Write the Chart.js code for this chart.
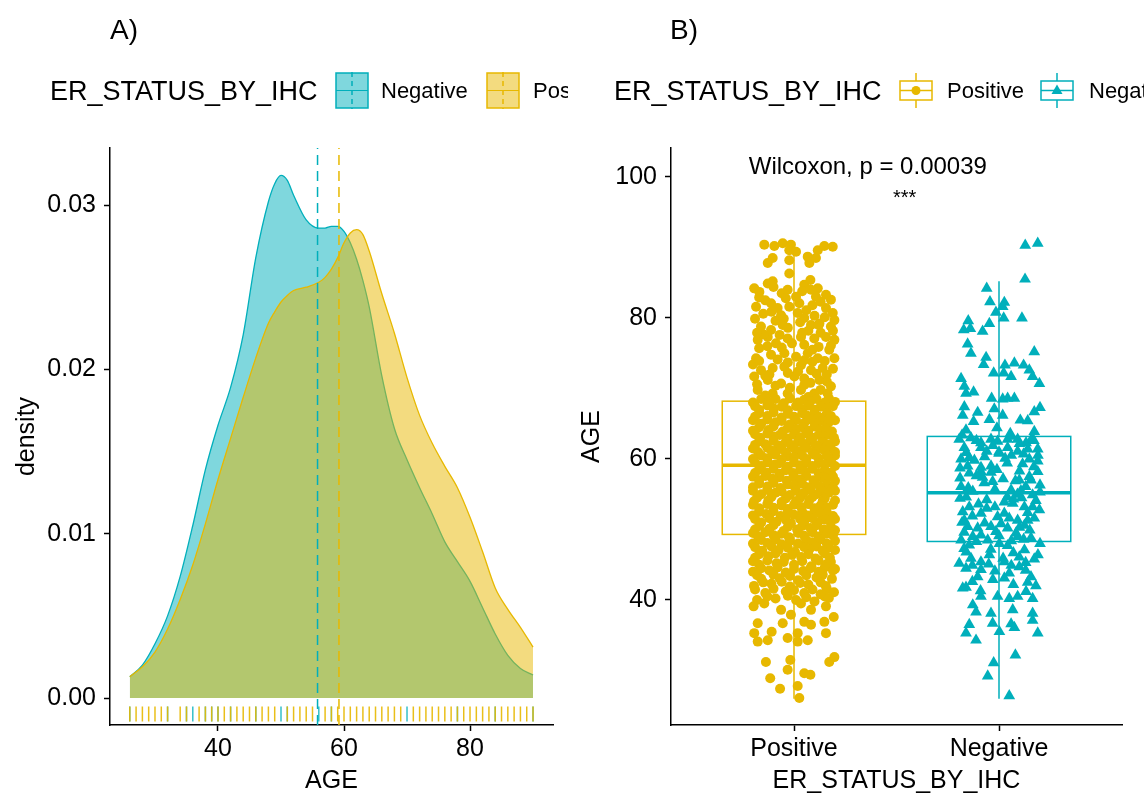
<!DOCTYPE html>
<html>
<head>
<meta charset="utf-8">
<title>ER_STATUS_BY_IHC and AGE</title>
<script src="https://cdn.jsdelivr.net/npm/chart.js@4.4.1/dist/chart.umd.min.js"></script>
<style>
  html, body { margin: 0; padding: 0; background: #fff; }
  body { width: 1144px; height: 796px; position: relative; overflow: hidden;
         font-family: 'Liberation Sans', Arial, Helvetica, sans-serif; color: #000; }
  .panel { position: absolute; top: 0; width: 572px; height: 796px; }
  .panel canvas { position: absolute; left: 0; top: 0; }
  .tag { position: absolute; top: 13px; font-size: 28px; line-height: 34px; }
  .legend { position: absolute; left: 0; top: 68px; height: 46px; overflow: hidden; }
  .legend > * { position: absolute; }
  .ltitle { top: 0; font-size: 27px; line-height: 46px; white-space: nowrap; }
  .llabel { top: 0; font-size: 22px; line-height: 46px; white-space: nowrap; }
  .legend svg { top: 4px; }
</style>
</head>
<body>

<div class="panel" style="left:0">
  <canvas id="densityChart" width="572" height="796"></canvas>
  <div class="tag" style="left:110px">A)</div>
  <div class="legend" style="width:568px">
    <span class="ltitle" style="left:50px">ER_STATUS_BY_IHC</span>
    <svg style="left:335px" width="34" height="37">
      <rect x="1" y="1" width="32" height="35" fill="rgba(0,175,187,0.5)" stroke="#00AFBB" stroke-width="1.5"/>
      <line x1="1" y1="18.5" x2="33" y2="18.5" stroke="#00AFBB" stroke-width="1"/>
      <line x1="17" y1="0" x2="17" y2="37" stroke="#00AFBB" stroke-width="1.5" stroke-dasharray="5,4"/>
    </svg>
    <span class="llabel" style="left:381px">Negative</span>
    <svg style="left:486px" width="34" height="37">
      <rect x="1" y="1" width="32" height="35" fill="rgba(231,184,0,0.5)" stroke="#E7B800" stroke-width="1.5"/>
      <line x1="1" y1="18.5" x2="33" y2="18.5" stroke="#E7B800" stroke-width="1"/>
      <line x1="17" y1="0" x2="17" y2="37" stroke="#E7B800" stroke-width="1.5" stroke-dasharray="5,4"/>
    </svg>
    <span class="llabel" style="left:533px">Positive</span>
  </div>
</div>

<div class="panel" style="left:572px">
  <canvas id="boxChart" width="572" height="796"></canvas>
  <div class="tag" style="left:98px">B)</div>
  <div class="legend" style="width:572px">
    <span class="ltitle" style="left:42px">ER_STATUS_BY_IHC</span>
    <svg style="left:327px" width="34" height="37">
      <line x1="17" y1="1" x2="17" y2="36" stroke="#E7B800" stroke-width="1.5"/>
      <rect x="1" y="9" width="32" height="19" fill="#fff" stroke="#E7B800" stroke-width="1.5"/>
      <line x1="1" y1="18.5" x2="33" y2="18.5" stroke="#E7B800" stroke-width="1.5"/>
      <circle cx="17" cy="18.5" r="4.5" fill="#E7B800"/>
    </svg>
    <span class="llabel" style="left:375px">Positive</span>
    <svg style="left:468px" width="34" height="37">
      <line x1="17" y1="1" x2="17" y2="36" stroke="#00AFBB" stroke-width="1.5"/>
      <rect x="1" y="9" width="32" height="19" fill="#fff" stroke="#00AFBB" stroke-width="1.5"/>
      <line x1="1" y1="18.5" x2="33" y2="18.5" stroke="#00AFBB" stroke-width="1.5"/>
      <polygon points="17,12.5 22.5,22 11.5,22" fill="#00AFBB"/>
    </svg>
    <span class="llabel" style="left:517px">Negative</span>
  </div>
</div>

<script>
// ---- data ----
const groups = ['Positive', 'Negative'];

// density curves, panel A
const densityAges = [26, 28, 30, 32, 34, 36, 38, 40, 42, 44, 46, 48, 49, 50, 51, 52, 54, 56, 57, 58,
  59, 60, 61, 62, 63, 64, 66, 68, 70, 72, 74, 76, 78, 80, 82, 84, 86, 88, 90];
const densityNegative = [.0013, .0020, .0033, .0050, .0074, .0105, .0139, .0166, .0189, .0221,
  .0268, .0302, .0313, .0318, .0315, .0306, .0291, .0286, .0286, .0287,
  .0287, .0284, .0277, .0267, .0254, .0238, .0196, .0164, .0145, .0128,
  .0112, .0095, .0083, .0071, .0055, .0039, .0026, .0018, .0014];
const densityPositive = [.0013, .0019, .0028, .0042, .0060, .0081, .0106, .0133, .0158, .0183,
  .0207, .0228, .0235, .0241, .0245, .0248, .0250, .0253, .0256, .0261,
  .0268, .0277, .0283, .0285, .0282, .0272, .0246, .0222, .0195, .0172,
  .0155, .0141, .0128, .0110, .0089, .0067, .0054, .0043, .0031];
const groupMeans = [59.2, 55.8];   // Positive, Negative

// rug ages
const rugPositive = [26, 27, 28, 29, 30, 31, 32, 34, 35, 37, 38, 39, 40, 41, 42, 43, 44, 45, 46, 47, 48, 49,
  51, 52, 53, 54, 55, 57, 58, 59, 60, 61, 62, 63, 64, 65, 66, 67, 68, 69, 71, 72, 73, 74, 75, 76, 77,
  78, 79, 80, 81, 82, 83, 84, 85, 86, 87, 88, 89, 90];
const rugNegative = [26, 32, 35, 36, 38, 39, 40, 42, 46, 50, 51, 56, 58, 70, 78, 84, 90];

// boxplot stats, panel B (Positive, Negative)
const boxLow = [26, 26];
const boxQ1 = [49.3, 48.3];
const boxMedian = [59.1, 55.2];
const boxQ3 = [68.2, 63.2];
const boxHigh = [90, 85.2];

// jittered points: [offset from group centre, AGE]
const positivePoints = [
  [-0.145, 90.4], [-0.096, 90.2], [-0.055, 90.6], [-0.015, 90.4], [-0.023, 89.6], [0.010, 89.4], [0.067, 88.7],
  [0.116, 89.6], [0.148, 90.2], [0.189, 90.1], [-0.128, 87.8], [-0.104, 88.5], [-0.023, 88.2], [0.075, 87.8],
  [0.107, 88.5], [-0.023, 86.3], [-0.194, 84.2], [-0.169, 83.7], [-0.128, 84.9], [-0.104, 85.2], [-0.031, 84.0],
  [0.050, 84.7], [0.083, 84.0], [0.116, 84.2], [0.107, 83.0], [0.156, 83.3], [-0.112, 82.1], [-0.185, 81.6],
  [-0.080, 81.4], [-0.023, 81.6], [0.026, 82.1], [0.018, 80.7], [-0.063, 80.4], [0.050, 80.0], [0.156, 81.4],
  [0.189, 80.7], [0.197, 79.7], [-0.161, 78.8], [-0.112, 78.3], [-0.055, 79.0], [0.083, 79.0], [0.124, 79.2],
  [0.180, 78.8], [-0.177, 76.9], [-0.128, 77.3], [-0.088, 76.4], [-0.031, 77.1], [0.034, 77.3], [0.099, 77.1],
  [0.156, 77.3], [0.197, 76.9], [-0.185, 74.3], [-0.112, 74.8], [-0.047, 75.0], [0.010, 74.5], [0.067, 75.0],
  [0.116, 74.3], [0.172, 75.5], [0.197, 74.3], [-0.161, 72.6], [-0.104, 72.9], [-0.047, 73.1], [0.034, 73.3],
  [0.083, 72.6], [0.140, 72.9], [-0.194, 71.7], [-0.128, 71.2], [-0.063, 70.7], [0.002, 71.7], [0.050, 71.4],
  [0.124, 71.2], [0.180, 70.3], [-0.177, 69.8], [-0.104, 69.3], [-0.031, 69.3], [0.034, 69.8], [0.099, 69.3],
  [0.164, 69.3],
  [-0.06, 83.5], [0.04, 83.8], [-0.14, 82.5], [0.13, 82.3], [-0.04, 82.8], [0.09, 81.8], [-0.15, 80.6],
  [0.10, 80.3], [-0.09, 79.6], [0.03, 79.4], [0.15, 80.1], [-0.19, 79.9], [0.07, 78.2], [-0.03, 78.6],
  [0.13, 77.9], [-0.15, 77.7], [-0.06, 75.8], [0.05, 76.2], [0.12, 75.9], [-0.17, 75.7], [0.18, 76.1],
  [-0.08, 74.1], [0.09, 73.8], [-0.20, 73.4], [-0.03, 72.2], [0.16, 72.0], [-0.14, 71.8], [0.08, 70.8],
  [-0.02, 70.1], [0.13, 69.8],
  [-0.18, 70.6], [-0.09, 70.4], [0.05, 70.5], [0.16, 71.0], [-0.12, 72.0], [0.02, 72.4], [0.11, 72.1],
  [0.19, 72.8], [-0.17, 73.9], [-0.03, 73.7], [0.05, 74.0], [0.15, 73.9], [-0.13, 76.0], [-0.01, 76.4],
  [0.09, 75.5], [-0.18, 77.9], [-0.07, 77.6], [0.04, 77.9], [0.19, 78.2], [-0.11, 80.9], [0.06, 81.1],
  [-0.05, 79.9], [0.12, 79.0], [-0.17, 82.9], [0.01, 83.0], [0.18, 82.6], [-0.10, 84.4], [0.08, 85.4],
  [-0.14, 69], [0.07, 68.8],
  [-0.16, 68.5], [-0.09, 68.5], [-0.02, 68.6], [0.05, 68.4], [0.11, 68.5], [0.17, 68.6],
  [-0.20, 68], [-0.12, 68.1], [-0.05, 67.9], [0.02, 68], [0.08, 68.2], [0.15, 68], [0.20, 68.1],
  [-0.19, 67.5], [-0.13, 67.6], [-0.06, 67.4], [0.01, 67.5], [0.07, 67.6], [0.13, 67.4], [0.19, 67.5],
  [-0.17, 67], [-0.10, 67.2], [-0.03, 66.9], [0.04, 67.1], [0.10, 67], [0.16, 67.2],
  [-0.17, 66.5], [-0.10, 66.6], [-0.03, 66.4], [0.04, 66.5], [0.10, 66.6], [0.16, 66.4],
  [-0.19, 66], [-0.13, 66.1], [-0.06, 65.9], [0.00, 66], [0.06, 66.2], [0.12, 66], [0.18, 66.1],
  [-0.20, 65.5], [-0.13, 65.6], [-0.06, 65.4], [0.01, 65.5], [0.08, 65.6], [0.14, 65.4], [0.20, 65.5],
  [-0.16, 65], [-0.09, 65.2], [-0.02, 64.9], [0.05, 65.1], [0.11, 65], [0.17, 65.2],
  [-0.17, 64.5], [-0.10, 64.6], [-0.03, 64.4], [0.04, 64.5], [0.10, 64.6], [0.16, 64.4],
  [-0.20, 64], [-0.125, 64.1], [-0.055, 63.9], [0.01, 64.2], [0.07, 64], [0.13, 64.1], [0.185, 63.9],
  [-0.19, 63.5], [-0.13, 63.6], [-0.07, 63.4], [0.00, 63.5], [0.06, 63.6], [0.12, 63.4], [0.17, 63.5],
  [-0.165, 63], [-0.10, 63.2], [-0.03, 62.9], [0.03, 63.1], [0.09, 63], [0.145, 63.2], [0.195, 63],
  [-0.17, 62.5], [-0.10, 62.6], [-0.04, 62.4], [0.02, 62.5], [0.08, 62.6], [0.14, 62.4], [0.20, 62.5],
  [-0.19, 62], [-0.14, 62.1], [-0.075, 61.9], [-0.015, 62], [0.045, 62.2], [0.105, 62], [0.165, 62.1],
  [-0.20, 61.5], [-0.13, 61.6], [-0.06, 61.4], [0.00, 61.5], [0.06, 61.6], [0.12, 61.4], [0.18, 61.5],
  [-0.175, 61], [-0.11, 61.2], [-0.04, 60.9], [0.025, 61.1], [0.09, 61], [0.15, 61.2], [0.20, 61],
  [-0.16, 60.5], [-0.09, 60.6], [-0.03, 60.4], [0.04, 60.5], [0.10, 60.6], [0.16, 60.4], [0.20, 60.5],
  [-0.20, 60], [-0.13, 60.1], [-0.06, 59.9], [0.00, 60.2], [0.06, 60], [0.12, 60.1], [0.18, 59.9],
  [-0.19, 59.5], [-0.13, 59.6], [-0.07, 59.4], [0.00, 59.5], [0.06, 59.6], [0.12, 59.4], [0.18, 59.5],
  [-0.16, 59], [-0.095, 59.2], [-0.03, 58.9], [0.03, 59.1], [0.09, 59], [0.15, 59.2], [0.20, 59],
  [-0.17, 58.5], [-0.10, 58.6], [-0.04, 58.4], [0.03, 58.5], [0.09, 58.6], [0.15, 58.4],
  [-0.19, 58], [-0.135, 58.1], [-0.07, 57.9], [-0.005, 58], [0.055, 58.2], [0.12, 58], [0.18, 58.1],
  [-0.20, 57.5], [-0.14, 57.6], [-0.07, 57.4], [0.00, 57.5], [0.06, 57.6], [0.13, 57.4], [0.19, 57.5],
  [-0.17, 57], [-0.105, 57.2], [-0.035, 56.9], [0.03, 57.1], [0.095, 57], [0.155, 57.2], [0.20, 56.9],
  [-0.17, 56.5], [-0.10, 56.6], [-0.03, 56.4], [0.04, 56.5], [0.10, 56.6], [0.16, 56.4],
  [-0.20, 56], [-0.13, 56.1], [-0.065, 55.9], [0.00, 56.2], [0.065, 56], [0.125, 56.1], [0.19, 56],
  [-0.20, 55.5], [-0.13, 55.6], [-0.06, 55.4], [0.01, 55.5], [0.08, 55.6], [0.14, 55.4], [0.20, 55.5],
  [-0.16, 55], [-0.09, 55.2], [-0.02, 54.9], [0.045, 55.1], [0.11, 55], [0.17, 55.2],
  [-0.18, 54.5], [-0.11, 54.6], [-0.04, 54.4], [0.03, 54.5], [0.09, 54.6], [0.15, 54.4],
  [-0.195, 54], [-0.125, 54.1], [-0.06, 53.9], [0.01, 54], [0.075, 54.2], [0.14, 54], [0.20, 54.1],
  [-0.20, 53.5], [-0.13, 53.6], [-0.06, 53.4], [0.00, 53.5], [0.07, 53.6], [0.13, 53.4], [0.19, 53.5],
  [-0.17, 53], [-0.10, 53.1], [-0.03, 52.9], [0.035, 53.2], [0.10, 53], [0.16, 53.1],
  [-0.17, 52.5], [-0.10, 52.6], [-0.03, 52.4], [0.04, 52.5], [0.10, 52.6], [0.16, 52.4],
  [-0.20, 52], [-0.135, 52.2], [-0.065, 51.9], [0.00, 52.1], [0.065, 52], [0.13, 52.2], [0.19, 51.9],
  [-0.19, 51.5], [-0.12, 51.6], [-0.04, 51.4], [0.03, 51.5], [0.09, 51.6], [0.15, 51.4], [0.20, 51.5],
  [-0.16, 51], [-0.085, 51.1], [-0.015, 50.9], [0.05, 51.1], [0.115, 51], [0.175, 51.2],
  [-0.17, 50.5], [-0.10, 50.6], [-0.03, 50.4], [0.04, 50.5], [0.11, 50.6], [0.18, 50.4],
  [-0.19, 50], [-0.12, 50.1], [-0.05, 49.8], [0.015, 50], [0.08, 50.2], [0.145, 50], [0.20, 49.9],
  [-0.20, 49.5], [-0.14, 49.6], [-0.06, 49.4], [0.02, 49.5], [0.09, 49.6], [0.16, 49.4],
  [-0.175, 49], [-0.10, 49.2], [-0.025, 48.9], [0.05, 49.1], [0.12, 49], [0.19, 49.2],
  [-0.16, 48.5], [-0.09, 48.6], [-0.02, 48.4], [0.06, 48.5], [0.13, 48.6], [0.20, 48.4],
  [-0.20, 48], [-0.13, 48.1], [-0.06, 47.9], [0.02, 48], [0.09, 48.2], [0.16, 48],
  [-0.19, 47.5], [-0.11, 47.6], [-0.03, 47.4], [0.05, 47.5], [0.11, 47.6], [0.17, 47.4],
  [-0.155, 47], [-0.075, 47.1], [0.005, 46.8], [0.075, 47.2], [0.14, 47], [0.20, 47.1],
  [-0.17, 46.5], [-0.09, 46.6], [-0.01, 46.4], [0.07, 46.5], [0.15, 46.6],
  [-0.19, 46], [-0.125, 46.2], [-0.045, 46], [0.035, 46.1], [0.105, 45.9], [0.175, 46],
  [-0.20, 45.5], [-0.13, 45.6], [-0.05, 45.4], [0.04, 45.5], [0.12, 45.6], [0.18, 45.4],
  [-0.17, 45], [-0.085, 45.2], [0.00, 45], [0.085, 44.8], [0.16, 45.1],
  [-0.16, 44.5], [-0.08, 44.6], [0.00, 44.4], [0.08, 44.5], [0.15, 44.6], [0.20, 44.4],
  [-0.20, 44], [-0.12, 44.2], [-0.04, 43.9], [0.045, 44.1], [0.12, 44], [0.19, 44.2],
  [-0.18, 43.5], [-0.10, 43.6], [-0.02, 43.4], [0.06, 43.5], [0.14, 43.6],
  [-0.16, 43], [-0.07, 43.1], [0.02, 42.8], [0.11, 43.2], [0.185, 43],
  [-0.15, 42.5], [-0.06, 42.6], [0.03, 42.4], [0.13, 42.5],
  [-0.195, 42], [-0.11, 42.3], [-0.02, 41.9], [0.07, 42.2], [0.155, 42],
  [-0.19, 41.5], [-0.10, 41.6], [0.00, 41.4], [0.09, 41.5], [0.16, 41.6],
  [-0.14, 41], [-0.04, 41.2], [0.05, 41], [0.13, 40.8], [0.195, 41.1],
  [-0.13, 40.5], [-0.03, 40.6], [0.06, 40.4], [0.15, 40.5],
  [-0.18, 40], [-0.09, 40.2], [0.01, 40], [0.10, 39.8], [0.17, 40.3],
  [-0.197, 39.1], [-0.145, 39.5], [-0.063, 38.6], [0.034, 39.5], [0.083, 38.6], [0.156, 39.1], [-0.177, 36.7],
  [-0.194, 35.3], [-0.109, 35.5], [-0.055, 36.7], [-0.015, 37.9], [0.050, 36.9], [0.083, 36.5], [0.148, 36.9],
  [0.156, 35.3], [0.194, 37.6], [-0.177, 34.1], [-0.128, 34.3], [-0.031, 34.6], [0.018, 35.3], [0.018, 34.1],
  [0.067, 34.3], [-0.137, 31.2], [-0.018, 31.5], [-0.031, 30.1], [0.050, 29.6], [0.080, 29.4], [0.172, 31.2],
  [0.197, 31.9], [-0.116, 28.9], [-0.068, 27.4], [0.018, 27.8], [0.026, 26.1]
];

const negativePoints = [
  [0.128, 90.3], [0.189, 90.6], [0.127, 85.5], [-0.060, 84.2], [-0.044, 82.3], [0.026, 82.2], [0.018, 81.6],
  [-0.015, 80.8], [0.023, 80.0], [0.112, 80.0], [-0.150, 79.6], [-0.172, 78.3], [-0.140, 78.5], [-0.080, 78.1],
  [-0.047, 79.2], [-0.153, 76.3], [-0.137, 75.0], [0.172, 75.2], [-0.063, 74.4], [-0.075, 73.4], [0.029, 73.3],
  [0.075, 73.6], [0.120, 73.3], [-0.026, 72.2], [0.023, 72.2], [0.059, 71.7], [0.148, 72.6], [0.164, 71.7],
  [0.197, 70.7], [-0.185, 71.4], [-0.169, 70.3], [-0.161, 69.3], [-0.124, 69.5], [-0.036, 68.6], [0.018, 68.5],
  [0.042, 68.6], [0.075, 68.6], [-0.169, 67.4], [-0.104, 66.6], [-0.177, 66.2], [-0.023, 67.1], [0.018, 66.2],
  [-0.047, 65.6], [-0.124, 65.3], [0.104, 65.5], [0.140, 65.4], [0.172, 66.7], [0.200, 67.3], [-0.161, 64.1],
  [-0.010, 64.4], [0.055, 63.6], [0.172, 63.9],
  [-0.194, 62.8], [-0.137, 63.0], [-0.088, 62.3], [-0.039, 62.8], [-0.007, 62.5], [0.042, 62.8], [0.091, 62.8],
  [0.132, 62.3], [-0.169, 61.6], [-0.088, 61.6], [0.042, 61.6], [0.091, 61.1], [0.140, 61.4], [0.189, 61.4],
  [-0.185, 60.0], [-0.145, 60.2], [-0.039, 59.0], [0.148, 60.0], [0.189, 59.7], [-0.153, 59.0], [-0.088, 58.8],
  [0.060, 60.5], [0.000, 61.0], [0.115, 59.3], [0.000, 60.8], [-0.120, 59.8], [0.100, 62.2], [-0.060, 61.1],
  [0.170, 62.6], [0.040, 59.4],
  [-0.145, 58.0], [-0.088, 58.2], [-0.039, 58.1], [0.148, 57.5], [0.189, 58.2], [-0.185, 56.1], [-0.128, 55.4],
  [-0.072, 56.6], [-0.031, 56.8], [0.099, 57.0], [0.156, 57.0], [0.200, 56.3], [0.059, 55.6], [0.107, 55.5],
  [0.164, 54.9], [0.026, 53.9], [0.067, 53.7], [0.124, 53.2], [0.164, 53.2], [0.197, 52.8], [-0.177, 52.5],
  [-0.145, 53.2], [-0.088, 52.3], [-0.007, 51.8], [0.026, 52.3], [0.091, 51.3], [0.140, 51.3], [0.172, 51.6],
  [-0.169, 51.3], [-0.153, 50.4], [-0.104, 50.2], [-0.039, 50.4], [-0.015, 49.7], [0.042, 50.2], [0.083, 49.5],
  [0.124, 50.6], [-0.185, 48.5], [-0.128, 49.0], [-0.088, 49.2], [-0.055, 48.5], [0.002, 48.0], [0.042, 47.7],
  [0.091, 49.0], [0.156, 48.8], [-0.145, 47.8], [0.124, 47.1], [-0.194, 45.2], [-0.137, 45.9], [-0.088, 45.4],
  [-0.047, 46.4], [0.026, 45.4], [0.099, 46.1], [0.172, 45.8], [-0.161, 44.5], [-0.088, 44.3], [-0.104, 43.3],
  [0.026, 43.1], [0.050, 43.8], [0.099, 44.7], [0.156, 43.3], [-0.177, 41.7], [-0.161, 41.8], [-0.088, 40.5],
  [-0.007, 40.5], [0.050, 40.2], [0.091, 40.5], [0.132, 41.2], [0.164, 40.2], [-0.128, 39.3], [-0.112, 38.3],
  [-0.039, 38.1], [0.067, 38.6], [0.164, 38.1], [0.164, 37.1], [-0.031, 36.7], [0.059, 36.6], [0.075, 36.1],
  [-0.145, 36.5], [-0.161, 35.3], [-0.112, 34.3], [0.002, 35.5], [0.189, 35.3], [0.080, 32.2], [-0.026, 31.1],
  [-0.055, 29.2], [0.050, 26.4],
  [-0.19, 57.3], [-0.11, 57.6], [0.02, 57.2], [0.08, 56.9], [-0.16, 54.6], [-0.06, 54.2], [0.04, 54.6],
  [0.11, 54.5], [-0.10, 53.6], [-0.02, 53.2], [0.18, 54.1], [-0.13, 51.9], [0.05, 51.6], [-0.07, 50.9],
  [0.15, 49.9], [-0.17, 49.6], [0.00, 49.1], [0.12, 48.6], [-0.04, 47.2], [0.07, 46.7], [-0.16, 46.8],
  [0.19, 46.4], [0.02, 45.9], [-0.02, 44.1], [0.13, 44.2], [0.07, 42.2], [-0.13, 42.6], [0.18, 42.0],
  [-0.18, 63.4], [-0.11, 62.6], [0.06, 63.2], [0.16, 62.9], [-0.03, 61.9], [0.12, 60.7], [-0.16, 60.9],
  [-0.07, 60.3], [0.03, 60.1], [0.19, 60.5], [-0.19, 58.7], [-0.01, 58.5], [0.10, 58.3], [0.17, 58.9],
  [-0.08, 57.4], [0.13, 56.1], [-0.15, 55.9], [-0.02, 55.7], [0.09, 55.0], [0.20, 55.3], [-0.19, 54.4],
  [0.07, 54.3], [-0.06, 53.0], [0.14, 52.4], [-0.18, 51.0], [0.01, 50.8], [0.10, 50.3], [-0.11, 48.3],
  [0.06, 48.4], [0.20, 48.0], [-0.17, 47.3], [-0.05, 45.1], [0.13, 45.3], [-0.13, 44.9], [0.06, 44.9],
  [-0.03, 42.9], [0.14, 42.5], [-0.09, 41.3]
];

const ageTicks = [40, 60, 80];
const densityTicks = [0, 0.01, 0.02, 0.03];
const boxAgeTicks = [40, 60, 80, 100];
const statLabel = 'Wilcoxon, p = 0.00039';
const statStars = '***';

// ---- styles / layout ----
const colors = { Positive: '#E7B800', Negative: '#00AFBB' };
const fills = { Positive: 'rgba(231,184,0,0.5)', Negative: 'rgba(0,175,187,0.5)' };
const rugColors = { Positive: 'rgba(231,184,0,0.9)', Negative: 'rgba(0,175,187,0.8)' };

Chart.defaults.font.family = "'Liberation Sans', Arial, Helvetica, sans-serif";
Chart.defaults.color = '#000';

const tickGrid = { display: true, drawOnChartArea: false, drawTicks: true, tickLength: 6, tickWidth: 1.5, tickColor: '#000' };
const axisBorder = { display: true, color: '#000', width: 1.5 };
const tickFont = { size: 25, lineHeight: 1.2 };
const titleFont = { size: 25, lineHeight: 1.2 };

const densityY = { min: -0.00164, max: 0.03347 };
const rugLevel = -0.00097;

function setTicks(values) {
  return scale => { scale.ticks = values.map(v => ({ value: v })); };
}

// ---- panel A: density ----
const densityDatasets = [];
groups.forEach((g, i) => {
  densityDatasets.push({
    label: 'mean ' + g,
    data: [{ x: groupMeans[i], y: densityY.min }, { x: groupMeans[i], y: densityY.max }],
    showLine: true, borderColor: colors[g], borderWidth: 1.5, borderDash: [10, 6],
    pointRadius: 0, order: i
  });
});
[['Positive', densityPositive], ['Negative', densityNegative]].forEach(([g, values], i) => {
  densityDatasets.push({
    label: g,
    data: densityAges.map((a, k) => ({ x: a, y: values[k] })),
    showLine: true, fill: 'origin', cubicInterpolationMode: 'monotone',
    borderColor: colors[g], backgroundColor: fills[g], borderWidth: 1.3,
    pointRadius: 0, order: 2 + i
  });
});
[['Positive', rugPositive], ['Negative', rugNegative]].forEach(([g, ages], i) => {
  densityDatasets.push({
    label: 'rug ' + g,
    data: ages.map(a => ({ x: a, y: rugLevel })),
    pointStyle: 'line', pointRotation: 90, pointRadius: 7.5,
    pointBorderColor: rugColors[g], borderColor: rugColors[g], pointBorderWidth: 1.5, borderWidth: 1.5,
    order: 4 + i
  });
});

new Chart(document.getElementById('densityChart'), {
  type: 'scatter',
  data: { datasets: densityDatasets },
  options: {
    responsive: false, animation: false, events: [],
    layout: { padding: { top: 148, right: 19, bottom: 0, left: 0 } },
    plugins: { legend: { display: false }, tooltip: { enabled: false } },
    scales: {
      x: {
        type: 'linear', min: 22.86, max: 93.17,
        afterBuildTicks: setTicks(ageTicks),
        afterFit: s => { s.height = 71; },
        ticks: { font: tickFont, padding: 3, maxRotation: 0 },
        title: { display: true, text: 'AGE', font: titleFont, padding: { top: 0, bottom: 0 } },
        grid: tickGrid, border: axisBorder
      },
      y: {
        type: 'linear', min: densityY.min, max: densityY.max,
        afterBuildTicks: setTicks(densityTicks),
        afterFit: s => { s.width = 110; },
        ticks: { font: tickFont, padding: 8, callback: v => v.toFixed(2) },
        title: { display: true, text: 'density', font: titleFont, padding: { top: 12, bottom: 0 } },
        grid: tickGrid, border: axisBorder
      }
    }
  }
});

// ---- panel B: boxplot + jitter ----
const boxHalfWidth = 0.35;

const boxPlugin = {
  id: 'boxes',
  beforeDatasetsDraw(chart) {
    const { ctx, scales: { x, y } } = chart;
    ctx.save();
    groups.forEach((g, i) => {
      const cx = x.getPixelForValue(i + 1);
      const left = x.getPixelForValue(i + 1 - boxHalfWidth);
      const right = x.getPixelForValue(i + 1 + boxHalfWidth);
      const yQ1 = y.getPixelForValue(boxQ1[i]);
      const yQ3 = y.getPixelForValue(boxQ3[i]);
      const yMed = y.getPixelForValue(boxMedian[i]);
      ctx.strokeStyle = colors[g];
      ctx.lineWidth = 1.5;
      ctx.beginPath();
      ctx.moveTo(cx, y.getPixelForValue(boxHigh[i]));
      ctx.lineTo(cx, yQ3);
      ctx.moveTo(cx, yQ1);
      ctx.lineTo(cx, y.getPixelForValue(boxLow[i]));
      ctx.stroke();
      ctx.fillStyle = '#fff';
      ctx.fillRect(left, yQ3, right - left, yQ1 - yQ3);
      ctx.strokeRect(left, yQ3, right - left, yQ1 - yQ3);
      ctx.lineWidth = 3.5;
      ctx.beginPath();
      ctx.moveTo(left, yMed);
      ctx.lineTo(right, yMed);
      ctx.stroke();
    });
    ctx.restore();
  },
  afterDatasetsDraw(chart) {
    const { ctx, scales: { x, y } } = chart;
    ctx.save();
    ctx.fillStyle = '#000';
    ctx.textAlign = 'center';
    ctx.textBaseline = 'middle';
    ctx.font = "24px 'Liberation Sans', Arial, sans-serif";
    ctx.fillText(statLabel, x.getPixelForValue(1.36), y.getPixelForValue(101.4));
    ctx.font = "20px 'Liberation Sans', Arial, sans-serif";
    ctx.fillText(statStars, x.getPixelForValue(1.54), y.getPixelForValue(96.9));
    ctx.restore();
  }
};

new Chart(document.getElementById('boxChart'), {
  type: 'scatter',
  data: {
    datasets: [
      {
        label: 'Positive',
        data: positivePoints.map(([j, a]) => ({ x: 1 + j, y: a })),
        pointStyle: 'circle', pointRadius: 5, pointBorderWidth: 0,
        backgroundColor: colors.Positive, pointBackgroundColor: colors.Positive
      },
      {
        label: 'Negative',
        data: negativePoints.map(([j, a]) => ({ x: 2 + j, y: a })),
        pointStyle: 'triangle', pointRadius: 6.8, pointBorderWidth: 0,
        backgroundColor: colors.Negative, pointBackgroundColor: colors.Negative
      }
    ]
  },
  options: {
    responsive: false, animation: false, events: [],
    layout: { padding: { top: 148, right: 22, bottom: 0, left: 0 } },
    plugins: { legend: { display: false }, tooltip: { enabled: false } },
    scales: {
      x: {
        type: 'linear', min: 0.4, max: 2.6,
        afterBuildTicks: setTicks([1, 2]),
        afterFit: s => { s.height = 71; },
        ticks: { font: tickFont, padding: 3, maxRotation: 0, callback: v => groups[v - 1] },
        title: { display: true, text: 'ER_STATUS_BY_IHC', font: titleFont, padding: { top: 0, bottom: 0 } },
        grid: tickGrid, border: axisBorder
      },
      y: {
        type: 'linear', min: 22.27, max: 104.11,
        afterBuildTicks: setTicks(boxAgeTicks),
        afterFit: s => { s.width = 99; },
        ticks: { font: tickFont, padding: 8 },
        title: { display: true, text: 'AGE', font: titleFont, padding: { top: 5, bottom: 0 } },
        grid: tickGrid, border: axisBorder
      }
    }
  },
  plugins: [boxPlugin]
});
</script>
</body>
</html>
